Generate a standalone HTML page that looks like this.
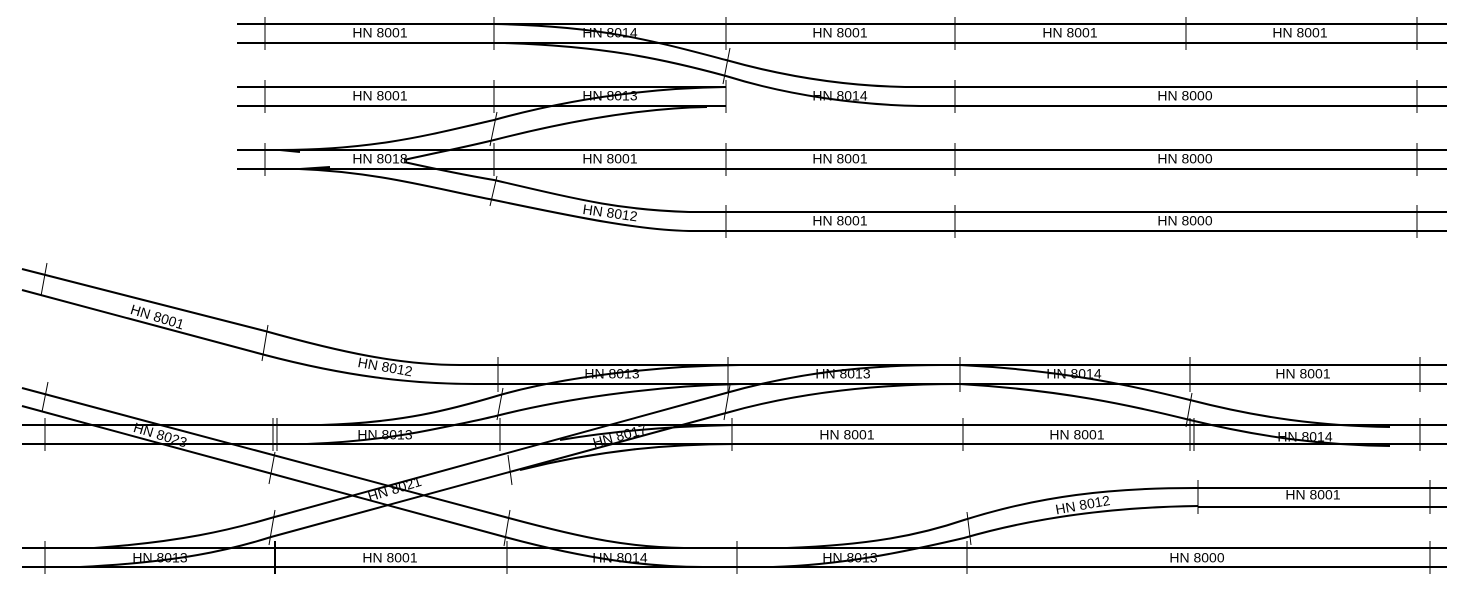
<!DOCTYPE html>
<html><head><meta charset="utf-8"><style>
html,body{margin:0;padding:0;background:#fff;}
svg{display:block}
text{font-family:"Liberation Sans",sans-serif;font-size:14px;fill:#000;text-anchor:middle;dominant-baseline:middle;}
.r{stroke:#000;stroke-width:2;fill:none}
.t{stroke:#000;stroke-width:1;fill:none}
</style></head><body>
<svg width="1469" height="596" viewBox="0 0 1469 596">
<path class="r" d="M237 24H1447M237 43H1447
M237 87H726M905 87H1447M237 106H726M920 106H1447
M237 150H1447M237 169H1447
M689 212H1447M689 231H1447"/>
<path class="r" d="M494 24C600 26 650 40 726 60C790 78 850 86 905 87"/>
<path class="r" d="M505 43C600 46 660 58 726 76C790 96 860 105 920 106"/>
<path class="r" d="M280 150C380 150 440 132 494 120C580 96 660 88 726 87"/>
<path class="r" d="M404 160C440 152 470 146 494 140C580 118 650 108 707 107"/>
<path class="r" d="M404 162C440 170 470 176 494 180C580 200 620 210 689 212"/>
<path class="r" d="M299 169C380 172 440 190 494 200C580 218 640 230 689 231"/>
<path class="r" d="M280 150L300 152M300 169L330 167"/>
<path class="t" d="M265 17V50M494 17V50M726 17V50M955 17V50M1186 17V50M1417 17V50
M265 80V113M494 80V113M726 80V113M955 80V113M1417 80V113
M265 143V176M494 143V176M726 143V176M955 143V176M1417 143V176
M726 205V238M955 205V238M1417 205V238
M730 48L723 84M497 112L490 146M497 176L490 206"/>
<text x="380" y="34">HN 8001</text><text x="610" y="34">HN 8014</text><text x="840" y="34">HN 8001</text><text x="1070" y="34">HN 8001</text><text x="1300" y="34">HN 8001</text>
<text x="380" y="97">HN 8001</text><text x="610" y="97">HN 8013</text><text x="840" y="97">HN 8014</text><text x="1185" y="97">HN 8000</text>
<text x="380" y="160">HN 8018</text><text x="610" y="160">HN 8001</text><text x="840" y="160">HN 8001</text><text x="1185" y="160">HN 8000</text>
<text x="610" y="214" transform="rotate(8 610 214)">HN 8012</text><text x="840" y="222">HN 8001</text><text x="1185" y="222">HN 8000</text>

<path class="r" d="M460 365H1447M475 384H1447
M22 425H1447M22 444H1447
M1195 488H1447M1198 507H1447
M22 548H1447M22 567H1447"/>
<path class="r" d="M22 269L265 331C340 352 400 365 460 365"/>
<path class="r" d="M22 290L265 355C345 376 410 384 475 384"/>
<path class="r" d="M22 388L505 517C590 540 630 547 684 548"/>
<path class="r" d="M22 406L505 537C590 560 650 567 703 567"/>
<path class="r" d="M94 548C180 542 230 530 271 518L726 393C800 372 870 365 942 365"/>
<path class="r" d="M80 567C180 562 230 550 271 537L726 413C800 392 880 384 959 384"/>
<path class="r" d="M321 425C400 423 450 410 500 395C560 378 650 366 740 365"/>
<path class="r" d="M307 444C360 442 400 436 430 430C460 424 480 420 500 415C560 400 650 386 740 384"/>
<path class="r" d="M560 440C620 430 680 426 735 425"/>
<path class="r" d="M520 470C600 450 670 444 735 444"/>
<path class="r" d="M960 365C1060 370 1130 385 1190 400C1260 418 1320 426 1390 427"/>
<path class="r" d="M960 384C1060 390 1130 405 1190 420C1260 437 1320 445 1390 446"/>
<path class="r" d="M787 548C870 545 920 535 964 520C1040 496 1110 488 1195 488"/>
<path class="r" d="M773 567C840 565 900 553 964 538C1040 516 1120 507 1198 506"/>
<path class="t" d="M498 357V392M728 357V392M960 357V392M1190 357V392M1420 357V392
M45 418V451M273 418V451M277 418V451M500 418V451M732 418V451M963 418V451M1190 418V451M1194 418V451M1420 418V451
M1198 480V514M1430 480V514
M45 541V574M275 541V574M507 541V574M737 541V574M967 541V574M1430 541V574
M47 263L41 296M268 325L262 361M48 382L42 412M275 452L269 484M503 388L497 420M730 385L724 420
M275 510L269 545M510 510L504 546M508 455L512 485M1192 393L1186 427M967 512L971 545"/>
<path class="r" d="M275 541V574"/>
<text x="157" y="318" transform="rotate(17 157 318)">HN 8001</text>
<text x="385" y="368" transform="rotate(10 385 368)">HN 8012</text>
<text x="612" y="375">HN 8013</text><text x="843" y="375">HN 8013</text><text x="1074" y="375">HN 8014</text><text x="1303" y="375">HN 8001</text>
<text x="160" y="436" transform="rotate(17 160 436)">HN 8023</text>
<text x="385" y="436">HN 8013</text>
<text x="620" y="437" transform="rotate(-15 620 437)">HN 8017</text>
<text x="847" y="436">HN 8001</text><text x="1077" y="436">HN 8001</text><text x="1305" y="438">HN 8014</text>
<text x="395" y="490" transform="rotate(-17 395 490)">HN 8021</text>
<text x="1083" y="506" transform="rotate(-10 1083 506)">HN 8012</text><text x="1313" y="496">HN 8001</text>
<text x="160" y="559">HN 8013</text><text x="390" y="559">HN 8001</text><text x="620" y="559">HN 8014</text><text x="850" y="559">HN 8013</text><text x="1197" y="559">HN 8000</text>
</svg>
</body></html>
